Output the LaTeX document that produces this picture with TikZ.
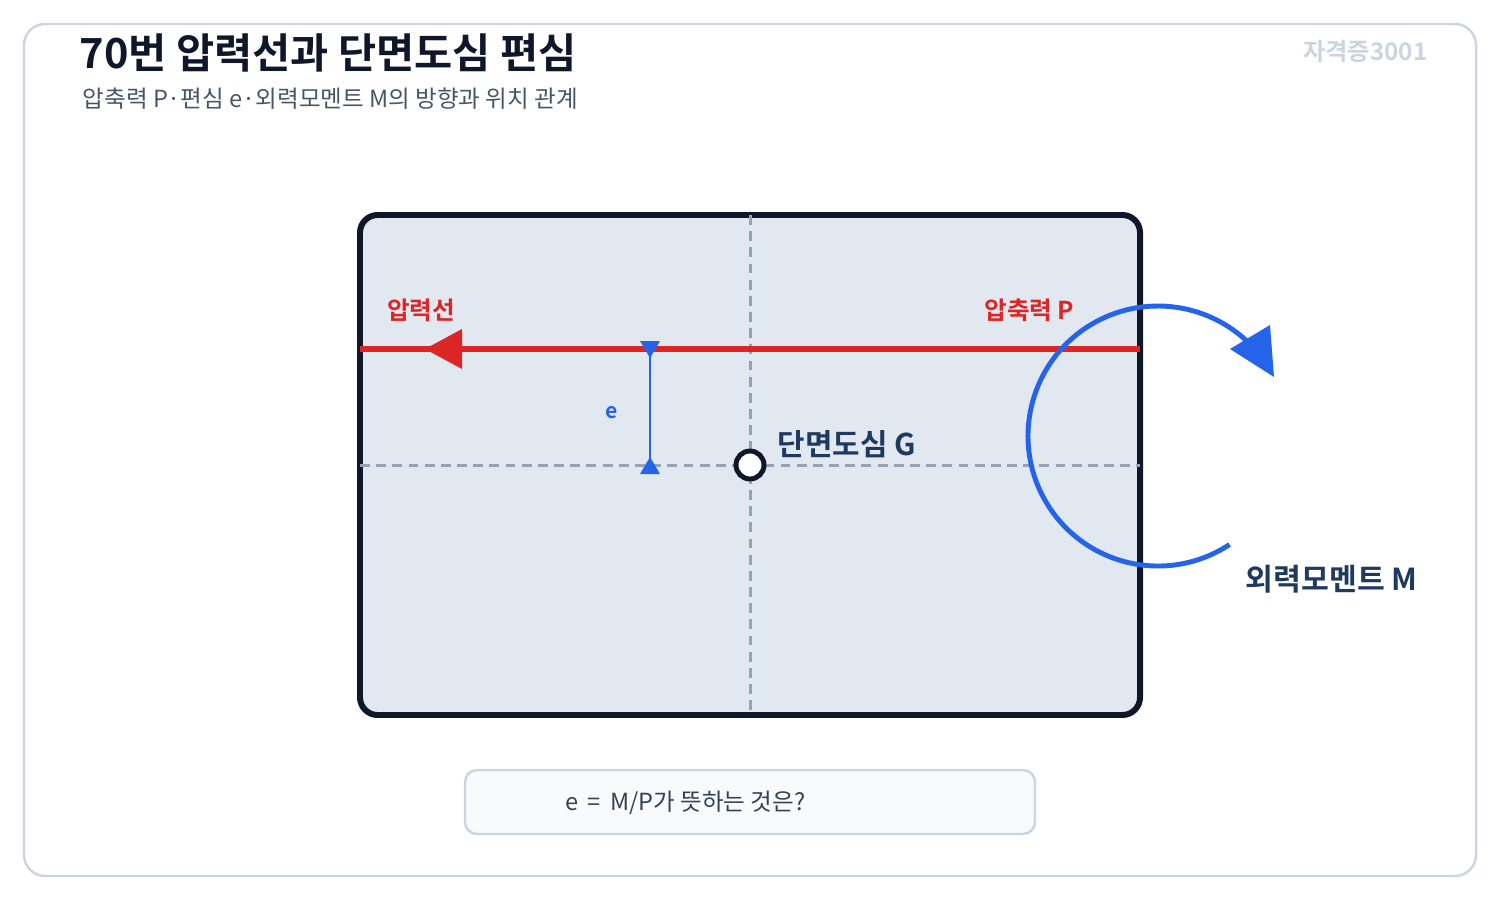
\documentclass[tikz,border=0pt]{standalone}
\usepackage{fontspec}
\setmainfont{Noto Sans CJK KR}[BoldFont={Noto Sans CJK KR Bold}]
\usetikzlibrary{calc}
\definecolor{framegray}{HTML}{CBD5E1}
\definecolor{inkdark}{HTML}{0F172A}
\definecolor{secfill}{HTML}{E2E8F0}
\definecolor{axisgray}{HTML}{94A3B8}
\definecolor{forcered}{HTML}{DC2626}
\definecolor{momblue}{HTML}{2563EB}
\definecolor{navy}{HTML}{1E3A5F}
\definecolor{subgray}{HTML}{475569}
\definecolor{notegray}{HTML}{334155}
\definecolor{notefill}{HTML}{F8FAFC}
\def\fsz#1{\fontsize{#1}{#1}\selectfont}

\begin{document}
\begin{tikzpicture}[x=0.01cm, y=-0.01cm,
	axisline/.style={line width=0.85pt, color=axisgray, dash pattern=on 2.8pt off 1.8pt},
	lbl/.style={inner sep=0pt, font=\bfseries}]
		%%%%% START %%%%%
		\useasboundingbox (0, 0) rectangle (1500, 900);
		
		\draw[line width=0.7pt, color=framegray, rounded corners=6pt] (24, 24) rectangle (1476, 876);
		
		\node[lbl, anchor=west, color=inkdark] (title) at (79, 53) {\fsz{11.8pt}70번 압력선과 단면도심 편심};
		\node[inner sep=0pt, anchor=west, color=subgray] (subtitle) at (82, 99) {\fsz{6.7pt}압축력 P·편심 e·외력모멘트 M의 방향과 위치 관계};
		\node[lbl, anchor=east, color=framegray] (stamp) at (1428, 51) {\fsz{6.9pt}자격증3001};
		
		%% section
		\draw[line width=1.7pt, color=inkdark, fill=secfill, rounded corners=5pt] (360, 215) rectangle (1140, 715);
		\draw[axisline] (750, 215) -- (750, 715);
		\draw[axisline] (360, 465) -- (1140, 465);
		
		%% pressure line
		\draw[line width=1.7pt, color=forcered] (360, 349) -- (1140, 349);
		\fill[forcered] (425, 349) -- (462, 329) -- (462, 369) -- cycle;
		\node[lbl, color=forcered] (pline) at (421, 310) {\fsz{7pt}압력선};
		\node[lbl, anchor=east, color=forcered] (pforce) at (1075, 310) {\fsz{7pt}압축력 P};
		
		%% eccentricity
		\draw[line width=0.7pt, color=momblue] (650, 349) -- (650, 465);
		\fill[momblue] (640, 341) -- (660, 341) -- (650, 358) -- cycle;
		\fill[momblue] (640, 474) -- (660, 474) -- (650, 457) -- cycle;
		\node[lbl, color=momblue] (ecc) at (612, 413) {\fsz{6pt}e};
		
		%% centroid
		\draw[line width=1.4pt, color=inkdark, fill=white] (750, 465) circle (14);
		\node[lbl, anchor=west, color=navy] (cg) at (777, 444) {\fsz{8.5pt}단면도심 G};
		
		%% moment
		\draw[line width=1.4pt, color=momblue] (1158, 436) ++(56.6:130) arc (56.6:315:130);
		\fill[momblue] (1230, 349) -- (1270, 325) -- (1274, 377) -- cycle;
		\node[lbl, anchor=west, color=navy] (mom) at (1245, 579) {\fsz{8.6pt}외력모멘트 M};
		
		%% question
		\draw[line width=0.7pt, color=framegray, fill=notefill, rounded corners=3.4pt] (465, 770) rectangle (1035, 834);
		\node[inner sep=0pt, anchor=west, color=notegray] (quest) at (565, 803) {\fsz{6.7pt}e\ \,=\ \,M/P가 뜻하는 것은?};
		
		%%%%% END %%%%%
	\end{tikzpicture}
\end{document}
